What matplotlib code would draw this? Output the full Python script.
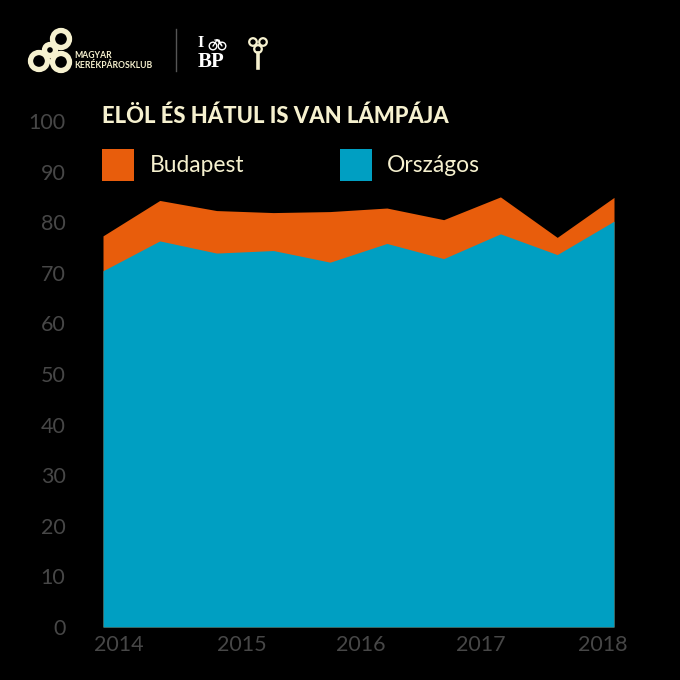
import matplotlib
matplotlib.use('Agg')
import matplotlib.pyplot as plt
from matplotlib.patches import Circle, Rectangle

surveys = [0, 1, 2, 3, 4, 5, 6, 7, 8, 9]
budapest = [77.3, 84.3, 82.3, 81.9, 82.1, 82.8, 80.5, 85.0, 77.0, 84.9]
orszagos = [70.4, 76.3, 73.9, 74.4, 72.1, 75.8, 72.8, 77.7, 73.6, 80.2]
year_pos = [0.27, 2.45, 4.54, 6.65, 8.8]
year_labels = ['2014', '2015', '2016', '2017', '2018']
y_ticks = [0, 10, 20, 30, 40, 50, 60, 70, 80, 90, 100]

orange = '#e85d0c'
blue = '#009fc2'
cream = '#f6f1cf'
grey = '#474747'

plt.rcParams['font.family'] = ['Lato', 'DejaVu Sans']

fig = plt.figure(figsize=(6.8, 6.8), dpi=100, facecolor='black')
ax = fig.add_axes([103/680, 1-627/680, 511/680, 506/680], facecolor='black')
ax.fill_between(surveys, 0, budapest, color=orange, lw=0)
ax.fill_between(surveys, 0, orszagos, color=blue, lw=0)
ax.set_xlim(0, 9)
ax.set_ylim(0, 100)
ax.set_xticks(year_pos)
ax.set_xticklabels(year_labels)
ax.set_yticks(y_ticks)
ax.tick_params(length=0, labelcolor=grey, labelsize=15.5)
ax.tick_params(axis='y', pad=27)
ax.tick_params(axis='x', pad=6)
for s in ax.spines.values():
    s.set_visible(False)

# everything around the chart, in pixel coordinates
top = fig.add_axes([0, 0, 1, 1], facecolor='none')
top.set_xlim(0, 680)
top.set_ylim(680, 0)
top.axis('off')

top.text(102, 116, 'ELÖL ÉS HÁTUL IS VAN LÁMPÁJA', color=cream, fontsize=15.8,
         fontweight='black', va='center')
top.add_patch(Rectangle((102, 149), 32, 32, color=orange, lw=0))
top.add_patch(Rectangle((340, 149), 32, 32, color=blue, lw=0))
top.text(150, 165, 'Budapest', color=cream, fontsize=16.4, va='center')
top.text(387, 165, 'Országos', color=cream, fontsize=16.4, va='center')

# logos
for cx, cy, r in [(61, 39, 8.5), (50, 50, 5.5), (39, 61, 8.5), (61, 62, 8.5)]:
    top.add_patch(Circle((cx, cy), r, fill=False, ec=cream, lw=3.8))
top.text(74, 56, 'MAGYAR', color=cream, fontsize=6.2, fontweight='bold', va='center')
top.text(74, 65, 'KERÉKPÁROSKLUB', color=cream, fontsize=6.2, fontweight='bold', va='center')
top.plot([176, 176], [29, 71], color='#555555', lw=1)

top.text(201, 43, 'I', color='white', fontsize=11.5, family='Liberation Serif',
         fontweight='bold', ha='center', va='center')
top.text(211, 62, 'BP', color='white', fontsize=15, family='Liberation Serif',
         fontweight='bold', ha='center', va='center')
for cx in (213, 222):
    top.add_patch(Circle((cx, 46), 3.8, fill=False, ec='white', lw=1))
top.plot([213, 217, 222, 219, 215], [46, 40, 46, 40, 40], color='white', lw=0.9)

for cx, cy in [(253, 42), (263, 42), (258, 49)]:
    top.add_patch(Circle((cx, cy), 3.8, fill=False, ec=cream, lw=1.6))
top.plot([258, 258], [53, 68], color=cream, lw=2.6)

fig.savefig('out.png', dpi=100, facecolor='black')
